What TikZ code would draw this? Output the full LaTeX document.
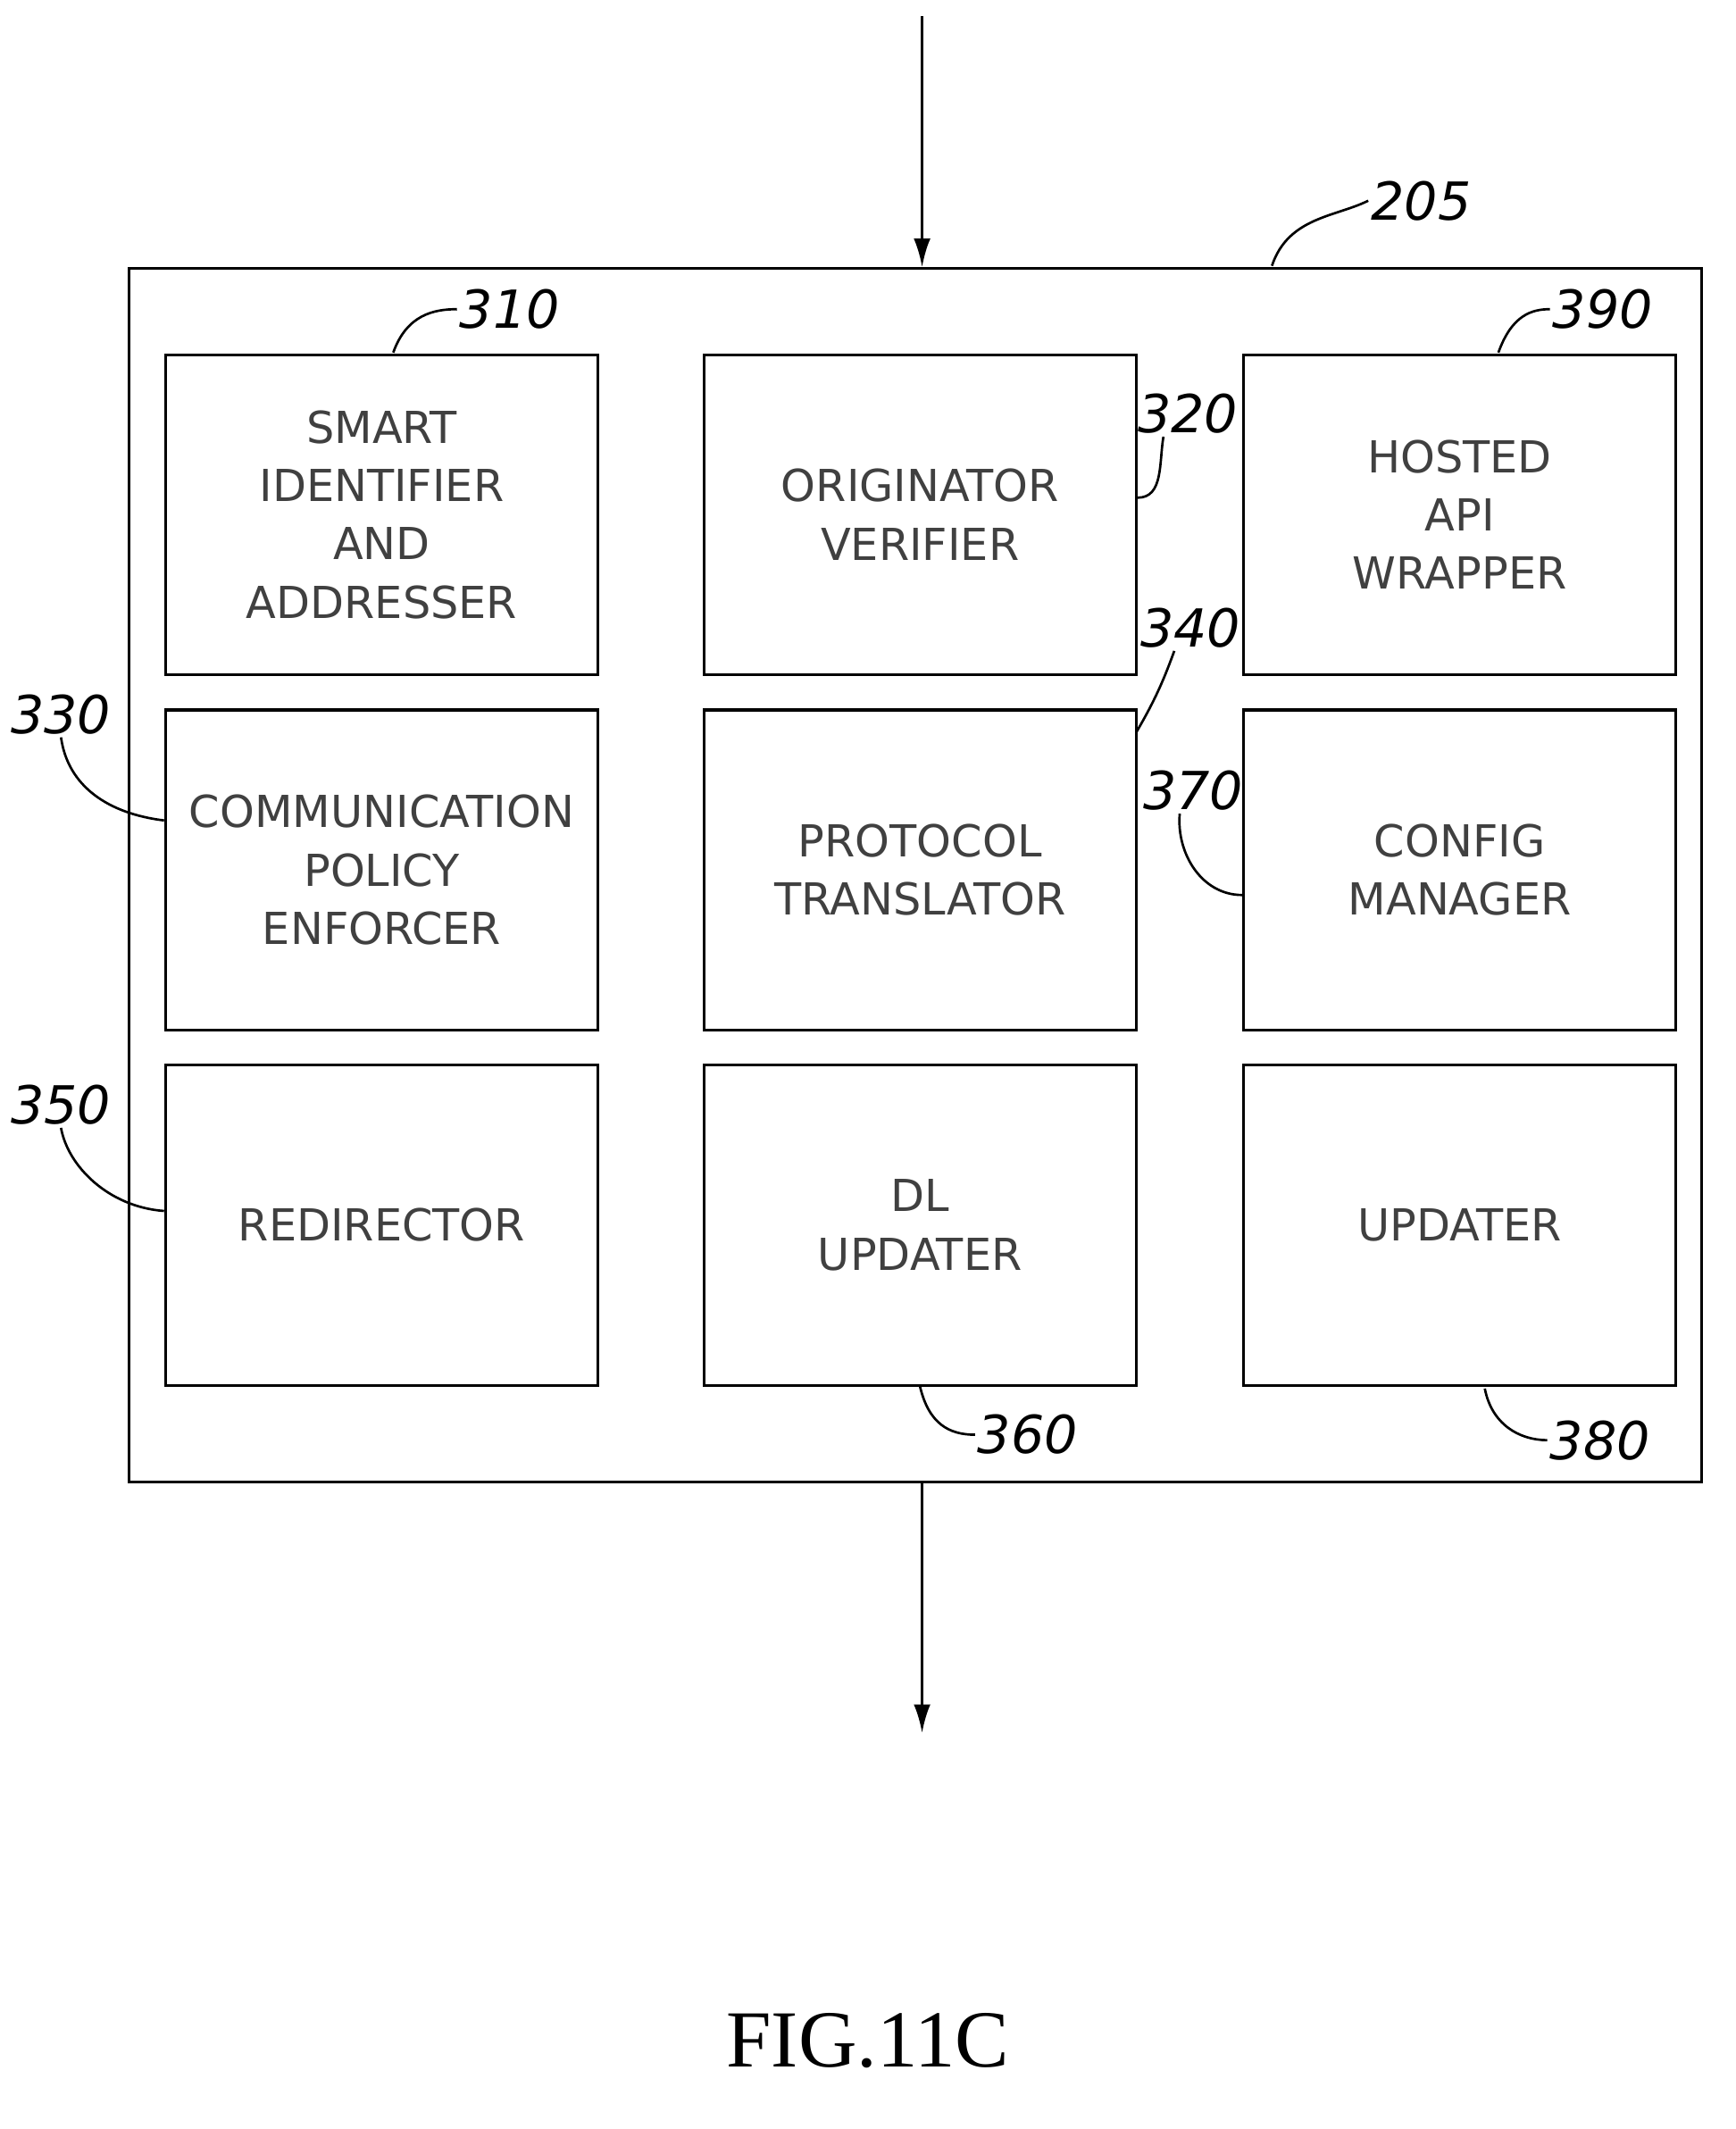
\documentclass[tikz,border=0pt]{standalone}
\usepackage{fontspec}
\setmainfont{Liberation Serif}
\setsansfont{DejaVu Sans}
\usetikzlibrary{arrows.meta}
\tikzstyle{unit}=[draw=black,line width=1.2pt,minimum width=6.38cm,minimum height=4.72cm,align=center,font=\sffamily\fontsize{18.5}{24.5}\selectfont\color{black!75}]
\tikzstyle{frame}=[draw=black,line width=1.2pt]
\tikzstyle{flow}=[-{Latex[length=12pt,width=7pt]},line width=1.2pt]
\tikzstyle{lead}=[-,line width=1pt]
\tikzstyle{ref}=[inner sep=1pt,font=\sffamily\itshape\fontsize{22}{24}\selectfont]
\begin{document}
\begin{tikzpicture}[x=0.02cm,y=-0.02cm]
	\useasboundingbox (0,0) rectangle (1280,1570);
	\node [frame,minimum width=23.2cm,minimum height=17.9cm] (device) at (675,645.5) {};
	\node [unit] (smart) at (281.5,379.5) {SMART\\IDENTIFIER\\AND\\ADDRESSER};
	\node [unit] (originator) at (678.5,379.5) {ORIGINATOR\\VERIFIER};
	\node [unit] (hosted) at (1076.5,379.5) {HOSTED\\API\\WRAPPER};
	\node [unit] (policy) at (281.5,641.5) {COMMUNICATION\\POLICY\\ENFORCER};
	\node [unit] (protocol) at (678.5,641.5) {PROTOCOL\\TRANSLATOR};
	\node [unit] (config) at (1076.5,641.5) {CONFIG\\MANAGER};
	\node [unit] (redirector) at (281.5,903.5) {REDIRECTOR};
	\node [unit] (dl) at (678.5,903.5) {DL\\UPDATER};
	\node [unit] (updater) at (1076.5,903.5) {UPDATER};
	\coordinate (in) at (680,12);
	\coordinate (out) at (680,1278);
	\draw [flow] (in) to (device.north -| in);
	\draw [flow] (device.south -| out) to (out);
	% reference numerals
	\node [ref] (r205) at (1048,148) {205};
	\node [ref] (r310) at (376,228) {310};
	\node [ref] (r320) at (876,305) {320};
	\node [ref] (r390) at (1182,228) {390};
	\node [ref] (r340) at (878,463) {340};
	\node [ref] (r370) at (880,583) {370};
	\node [ref] (r330) at (45,527) {330};
	\node [ref] (r350) at (45,815) {350};
	\node [ref] (r360) at (758,1058) {360};
	\node [ref] (r380) at (1180,1062) {380};
	\coordinate (c320) at (originator.east |- 0,367);
	\coordinate (c340) at (838,540);
	\coordinate (c370) at (config.west |- 0,660);
	\draw [lead] (938,196) .. controls (950,160) and (985,160) .. (r205.west);
	\draw [lead] (290,260) .. controls (300,232) and (320,228) .. (r310.west);
	\draw [lead] (c320) to [out=0,in=-100] (858,322);
	\draw [lead] (1105,260) .. controls (1115,232) and (1130,228) .. (r390.west);
	\draw [lead] (c340) to [out=60,in=-110] (866,480);
	\draw [lead] (c370) to [out=180,in=-95] (870,600);
	\draw [lead] (policy.west |- 0,605) .. controls (80,600) and (50,580) .. (r330.south);
	\draw [lead] (redirector.west |- 0,893) .. controls (80,890) and (50,860) .. (r350.south);
	\draw [lead] (dl.south) .. controls (685,1050) and (700,1058) .. (r360.west);
	\draw [lead] (1095,1024) .. controls (1100,1050) and (1120,1062) .. (r380.west);
	\node [font=\fontsize{34}{36}\selectfont] (fig) at (640,1505) {FIG.11C};
\end{tikzpicture}
\end{document}
